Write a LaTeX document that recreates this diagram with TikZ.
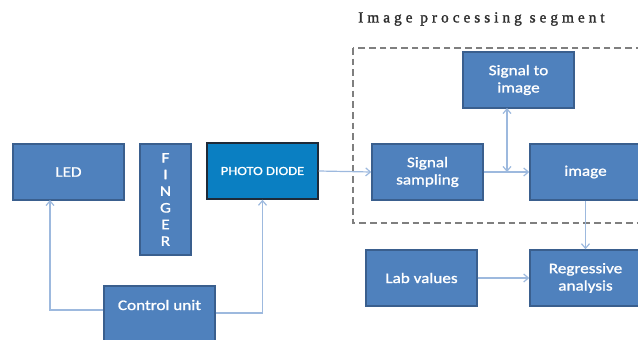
\documentclass[tikz,border=0pt]{standalone}
\usepackage{fontspec}
\usetikzlibrary{arrows.meta}
\newfontfamily\boxfont[FakeStretch=1.17,FakeBold=1.2]{Carlito}
\newfontfamily\titlefont[LetterSpace=26,FakeBold=1.5]{Liberation Serif}
\definecolor{boxfill}{HTML}{4F81BD}
\definecolor{boxline}{HTML}{3A5F8E}
\definecolor{pdfill}{HTML}{0A7FC2}
\definecolor{pdline}{HTML}{1E2A38}
\definecolor{arrowcol}{HTML}{9DB9DE}
\definecolor{dashcol}{HTML}{7F7F7F}
\definecolor{titlecol}{HTML}{2E2E2E}
\tikzset{
  blkbox/.style={draw=boxline, fill=boxfill, line width=1.1pt, text=white,
    font=\boxfont\fontsize{11}{13}\selectfont, align=center, inner sep=0pt,
    minimum width=83.25pt, minimum height=42pt},
  fingerbox/.style={blkbox, minimum width=38.25pt, minimum height=83.25pt,
    font=\boxfont\fontsize{11}{12.5}\selectfont},
  pdbox/.style={blkbox, draw=pdline, fill=pdfill, font=\boxfont\fontsize{9.3}{11}\selectfont},
  arr/.style={draw=arrowcol, line width=0.9pt, -{Straight Barb[length=3.5pt,width=6pt]}},
  darr/.style={draw=arrowcol, line width=0.9pt, {Straight Barb[length=3.5pt,width=6pt]}-{Straight Barb[length=3.5pt,width=6pt]}},
  segbox/.style={draw=dashcol, line width=1.1pt, dash pattern=on 5pt off 3pt},
  lbl/.style={text=white, font=\boxfont\fontsize{11}{13}\selectfont, inner sep=0pt}
}
\begin{document}
\begin{tikzpicture}[x=0.75pt, y=-0.75pt]
\useasboundingbox (0,0) rectangle (638,339);
\begin{scope}
\clip (0,0) rectangle (638,339);
% dashed segment frame
\draw[segbox] (353,48) rectangle (648,223);
\node[titlecol, font=\titlefont\fontsize{11.5}{13}\selectfont, anchor=west, inner sep=0pt] (title) at (358,19) {Image processing segment};

\node[blkbox] (led) at (68.5,172) {LED};
\node[fingerbox] (finger) at (165.5,199.5) {F\\I\\N\\G\\E\\R};
\node[pdbox] (pd) at (262.5,171) {PHOTO DIODE};
\node[blkbox] (ctrl) at (159.5,314) {};
\node[lbl] (ctrltext) at (159.5,305) {Control unit};

\node[blkbox] (samp) at (427.5,172) {Signal\\sampling};
\node[blkbox] (s2i) at (518.5,80) {Signal to\\image};
\node[blkbox] (img) at (585.5,172) {image};
\node[blkbox] (lab) at (421.5,278) {Lab values};
\node[blkbox] (reg) at (585.5,278) {Regressive\\analysis};

\coordinate (ledin) at (50,200);
\coordinate (junc) at (507,172);
\coordinate (s2ibot) at (507,108);

\draw[arr] ([yshift=3pt]ctrl.west) -| (ledin);
\draw[arr] ([yshift=0.75pt]ctrl.east) -| (pd.south);
\draw[arr] (pd.east) -- (samp.west);
\draw[arr] (samp.east) -- (img.west);
\draw[darr] (s2ibot) -- (junc);
\draw[arr] (img.south) -- (reg.north);
\draw[arr] (lab.east) -- (reg.west);
\end{scope}
\end{tikzpicture}
\end{document}
